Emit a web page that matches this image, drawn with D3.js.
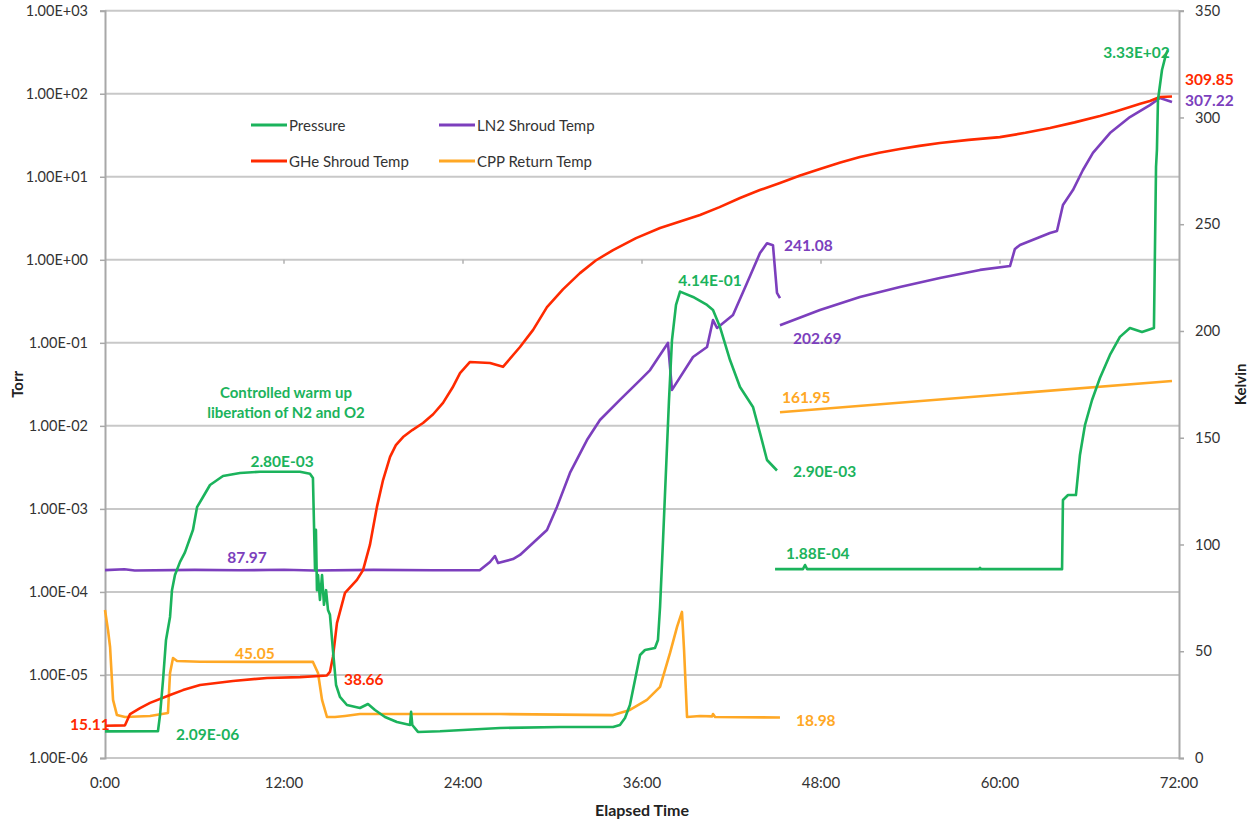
<!DOCTYPE html>
<html><head><meta charset="utf-8">
<script src="https://cdn.jsdelivr.net/npm/d3@7"></script>
<style>
body{margin:0;background:#fff;}
svg text{font-family:Lato,"Open Sans",sans-serif;}
</style></head>
<body><svg id="c" width="1255" height="819" font-family="Lato, 'Open Sans', sans-serif"></svg>
<script>
// ---- data: [elapsed hours, value] ----
const xTickLabels = ["0:00","12:00","24:00","36:00","48:00","60:00","72:00"];
const xTickHours = [0,12,24,36,48,60,72];
const leftTicks = [1e-6,1e-5,1e-4,1e-3,1e-2,1e-1,1e0,1e1,1e2,1e3];
const leftTickLabels = ["1.00E-06","1.00E-05","1.00E-04","1.00E-03","1.00E-02","1.00E-01","1.00E+00","1.00E+01","1.00E+02","1.00E+03"];
const rightTicks = [0,50,100,150,200,250,300,350];

// Pressure (Torr), left log axis
const pressureA = [
 [0,2.09e-6],[3.55,2.1e-6],[3.69,3.3e-6],[3.89,8.7e-6],[4.09,2.64e-5],[4.36,5.0e-5],[4.49,1.05e-4],
 [4.69,1.6e-4],[5.03,2.3e-4],[5.36,3.0e-4],[5.9,5.6e-4],[6.17,1.05e-3],[6.57,1.39e-3],[7.04,1.94e-3],
 [7.91,2.49e-3],[9.05,2.71e-3],[10.39,2.8e-3],[13.07,2.8e-3],[13.74,2.65e-3],[13.94,2.36e-3],
 [14.08,1.84e-4],[14.14,5.6e-4],[14.21,1.05e-4],[14.28,1.6e-4],[14.41,8.0e-5],[14.55,1.6e-4],
 [14.68,7.0e-5],[14.82,1.05e-4],[14.95,6.05e-5],[15.08,5.3e-5],[15.28,2.0e-5],[15.49,7.57e-6],
 [15.75,5.44e-6],[16.22,4.35e-6],[17.09,4.0e-6],[17.63,4.47e-6],[18.1,3.78e-6],[18.77,3.12e-6],
 [19.57,2.71e-6],[20.45,2.5e-6],[20.52,3.6e-6],[20.6,2.5e-6],[20.98,2.06e-6],[22.46,2.1e-6],
 [26.48,2.3e-6],[30.5,2.36e-6],[34.06,2.36e-6],[34.52,2.5e-6],[34.86,3.03e-6],[35.19,4.35e-6],
 [35.53,8.7e-6],[35.87,1.74e-5],[36.2,2.0e-5],[36.87,2.11e-5],[37.07,2.64e-5],[37.21,6.59e-5],
 [37.41,4.2e-4],[37.61,2.94e-3],[37.81,2.05e-2],[38.01,0.108],[38.28,0.286],[38.55,0.414],
 [39.42,0.357],[40.36,0.286],[40.76,0.249],[41.23,0.155],[41.9,6.2e-2],[42.57,2.94e-2],
 [43.44,1.69e-2],[43.91,8.2e-3],[44.38,3.88e-3],[45.05,2.9e-3]
];
const pressureB = [
 [44.92,1.88e-4],[46.79,1.88e-4],[46.93,2.11e-4],[47.07,1.88e-4],[58.6,1.88e-4],[58.66,1.95e-4],
 [58.72,1.88e-4],[64.16,1.88e-4],[64.22,1.28e-3],[64.56,1.47e-3],[65.09,1.47e-3],[65.36,4.46e-3],
 [65.7,1.03e-2],[66.17,2.05e-2],[66.7,3.77e-2],[67.37,7.14e-2],[68.04,0.118],[68.71,0.151],
 [69.52,0.135],[70.32,0.151],[70.46,13.1],[70.52,21],[70.59,84],[70.86,193],[71.13,300],[71.25,333]
];
// GHe Shroud Temp (K), right axis
const gheTemp = [
 [0,15.11],[1.34,15.3],[1.68,20.6],[2.35,23.4],[3.02,25.8],[4.36,29.5],[5.23,31.8],[6.37,34.2],
 [8.58,36.1],[10.86,37.5],[13.07,37.9],[14.88,38.66],[15.08,40.3],[15.28,47.3],[15.55,63.2],
 [16.09,77.3],[16.89,83.4],[17.3,88.0],[17.76,99.8],[18.23,117.6],[18.64,130.2],[19.11,141.0],
 [19.5,146.5],[19.98,150.3],[20.6,153.6],[21.32,156.9],[22.0,161.0],[22.66,166.3],[23.3,173.5],[23.8,180.3],[24.47,185.5],[25.81,185.0],[26.68,183.2],
 [27.82,192.5],[28.7,200.5],[29.63,211.2],[30.7,219.5],[31.84,227.1],[32.9,233.0],[34.06,237.9],
 [35.6,243.5],[37.21,248.2],[38.5,251.2],[39.89,254.3],[41.2,258.0],[42.57,262.3],[43.9,266.0],
 [45.25,269.3],[46.6,272.8],[47.93,275.9],[49.3,278.9],[50.61,281.5],[51.9,283.5],[53.29,285.2],
 [54.6,286.7],[55.97,288.0],[57.9,289.5],[59.99,290.8],[61.7,292.8],[63.35,295.1],[65.0,297.7],
 [66.7,300.7],[67.7,302.7],[68.71,304.9],[69.4,306.4],[70.05,307.7],[70.72,309.6],[71.53,309.85]
];
// LN2 Shroud Temp (K), right axis
const ln2TempA = [
 [0,88.0],[1.3,88.4],[2.0,87.8],[6.0,88.1],[9.0,87.9],[12.0,88.2],[14.0,87.8],[18.0,88.1],[22.0,87.9],
 [25.14,88.0],[25.81,91.8],[26.14,94.6],[26.35,91.3],[27.35,93.2],[27.82,95.1],[28.69,100.7],
 [29.63,106.8],[30.3,117.6],[31.17,133.5],[32.31,148.9],[33.18,158.3],[34.52,167.7],[35.87,177.0],
 [36.54,181.7],[37.74,194.4],[38.01,172.4],[39.42,187.8],[40.36,192.5],[40.76,205.1],[41.03,201.4],
 [42.1,207.5],[43.04,222.5],[43.91,236.5],[44.38,241.08],[44.78,240.2],[45.05,217.8],[45.25,215.4]
];
const ln2TempB = [
 [45.25,202.69],[47.93,209.8],[50.61,215.9],[53.29,220.6],[55.97,224.8],[58.66,228.6],[60.67,230.4],
 [61.0,238.4],[61.34,240.3],[62.68,244.0],[63.35,245.9],[63.82,246.8],[64.22,259.0],[64.89,266.0],
 [65.56,275.4],[66.23,283.4],[67.37,292.7],[68.71,300.2],[70.05,305.8],[70.72,309.1],[71.13,308.2],[71.53,307.22]
];
// CPP Return Temp (K), right axis
const cppTempA = [
 [0,69.3],[0.2,60.0],[0.34,52.0],[0.54,27.2],[0.8,20.1],[1.34,19.2],[3.02,19.7],[4.22,21.1],
 [4.36,39.8],[4.56,46.8],[4.83,45.4],[6.37,45.05],[13.94,45.0],[14.28,39.8],[14.55,27.2],
 [14.88,19.2],[15.42,19.2],[16.09,19.7],[17.09,20.6],[26.48,20.6],[34.06,20.1],[35.19,22.5],
 [36.33,27.2],[37.21,33.3],[37.88,49.2],[38.35,61.4],[38.68,68.4],[38.82,50.6],[39.02,19.2],
 [39.89,19.7],[40.7,19.5],[40.76,20.6],[40.9,19.2],[45.25,18.98]
];
const cppTempB = [[45.25,161.95],[71.53,176.6]];

const seriesNames = ["Pressure","LN2 Shroud Temp","GHe Shroud Temp","CPP Return Temp"];
const colors = {green:"#1bb35c", red:"#ff2a00", purple:"#7c3fbd", orange:"#ffa825"};

// value labels: [text, color, hour, value, axis, dx, dy, anchor]
const valueLabels = [
 ["3.33E+02","green",71.25,333,"L",2,2,"end"],
 ["309.85","red",71.53,309.85,"R",13,-17,"start"],
 ["307.22","purple",71.53,307.22,"R",13,-2,"start"],
 ["241.08","purple",44.38,241.08,"R",17,2,"start"],
 ["4.14E-01","green",38.55,0.414,"L",30,-12,"middle"],
 ["202.69","purple",45.25,202.69,"R",13,13,"start"],
 ["161.95","orange",45.25,161.95,"R",2,-15,"start"],
 ["2.80E-03","green",11.87,2.8e-3,"L",0,-11,"middle"],
 ["2.90E-03","green",45.05,2.9e-3,"L",16,0,"start"],
 ["1.88E-04","green",44.92,1.88e-4,"L",11,-16,"start"],
 ["87.97","purple",9.52,87.97,"R",0,-13,"middle"],
 ["45.05","orange",10.05,45.05,"R",0,-9,"middle"],
 ["38.66","red",14.88,38.66,"R",17,4,"start"],
 ["18.98","orange",45.25,18.98,"R",16,3,"start"],
 ["15.11","red",0,15.11,"R",-35,-2,"start"],
 ["2.09E-06","green",4.76,2.09e-6,"L",0,3,"start"]
];
const noteLines = ["Controlled warm up","liberation of N2 and O2"];

// ---- drawing ----
const svg = d3.select("#c");
const X0=105, X1=1179, Y0=758, Y1=10.7;
const FONT = "Lato, 'Open Sans', sans-serif";
const x = d3.scaleLinear().domain([0,72]).range([X0,X1]);
const yL = d3.scaleLog().domain([1e-6,1e3]).range([Y0,Y1]);
const yR = d3.scaleLinear().domain([0,350]).range([Y0,Y1]);

// gridlines
svg.append("g").selectAll("line").data(leftTicks).join("line")
  .attr("x1",X0).attr("x2",X1).attr("y1",d=>yL(d)).attr("y2",d=>yL(d))
  .attr("stroke","#c8c8c8").attr("stroke-width",2);

// left axis
const gl = svg.append("g").attr("transform",`translate(${X0},0)`)
  .call(d3.axisLeft(yL).tickValues(leftTicks).tickFormat((d,i)=>leftTickLabels[i]).tickSize(5).tickPadding(12));
gl.attr("font-family",FONT).attr("font-size",14.5);
gl.select(".domain").attr("stroke","#a8a8a8").attr("stroke-width",2);
gl.selectAll(".tick line").attr("stroke","#a8a8a8").attr("stroke-width",1.5);
gl.selectAll(".tick text").attr("font-family",FONT).attr("font-size",14.5).attr("fill","#333");

// right axis
const gr = svg.append("g").attr("transform",`translate(${X1},0)`)
  .call(d3.axisRight(yR).tickValues(rightTicks).tickSize(5).tickPadding(11));
gr.attr("font-family",FONT).attr("font-size",14.5);
gr.select(".domain").attr("stroke","#a8a8a8").attr("stroke-width",2);
gr.selectAll(".tick line").attr("stroke","#a8a8a8").attr("stroke-width",1.5);
gr.selectAll(".tick text").attr("font-family",FONT).attr("font-size",14.5).attr("fill","#333");

// bottom tick labels
svg.append("g").selectAll("text").data(xTickHours).join("text")
  .attr("x",d=>x(d)).attr("y",Y0+24).attr("text-anchor","middle").attr("dominant-baseline","central")
  .attr("font-size",15).attr("fill","#333").text((d,i)=>xTickLabels[i]);
// x axis crossing at 1 Torr: small tick marks
svg.append("g").selectAll("line").data(xTickHours.slice(1,6)).join("line")
  .attr("x1",d=>x(d)).attr("x2",d=>x(d)).attr("y1",yL(1)).attr("y2",yL(1)+4)
  .attr("stroke","#b0b0b0").attr("stroke-width",1.5);

// axis titles
svg.append("text").attr("transform",`translate(17,${(Y0+Y1)/2}) rotate(-90)`).attr("text-anchor","middle")
  .attr("dominant-baseline","central").attr("font-size",15).attr("font-weight","bold").attr("fill","#222").text("Torr");
svg.append("text").attr("transform",`translate(1240,${(Y0+Y1)/2}) rotate(-90)`).attr("text-anchor","middle")
  .attr("dominant-baseline","central").attr("font-size",15).attr("font-weight","bold").attr("fill","#222").text("Kelvin");
svg.append("text").attr("x",642).attr("y",809).attr("text-anchor","middle")
  .attr("dominant-baseline","central").attr("font-size",16).attr("font-weight","bold").attr("fill","#222").text("Elapsed Time");

// lines
const lineL = d3.line().x(d=>x(d[0])).y(d=>yL(d[1]));
const lineR = d3.line().x(d=>x(d[0])).y(d=>yR(d[1]));
const drawn = [
 [cppTempA,lineR,colors.orange],[cppTempB,lineR,colors.orange],
 [ln2TempA,lineR,colors.purple],[ln2TempB,lineR,colors.purple],
 [gheTemp,lineR,colors.red],
 [pressureA,lineL,colors.green],[pressureB,lineL,colors.green]
];
drawn.forEach(([data,gen,c])=>{
  svg.append("path").attr("d",gen(data)).attr("fill","none").attr("stroke",c)
    .attr("stroke-width",2.6).attr("stroke-linejoin","round").attr("stroke-linecap","butt");
});

// value labels
svg.append("g").selectAll("text").data(valueLabels).join("text")
  .attr("x",d=>x(d[2])+d[5])
  .attr("y",d=>(d[4]==="L"?yL(d[3]):yR(d[3]))+d[6])
  .attr("text-anchor",d=>d[7]).attr("dominant-baseline","central")
  .attr("font-size",15.5).attr("font-weight","bold").attr("fill",d=>colors[d[1]]).text(d=>d[0]);

// annotation note
svg.append("g").selectAll("text").data(noteLines).join("text")
  .attr("x",x(12.13)).attr("y",(d,i)=>yL(3e-2)+6+i*20).attr("text-anchor","middle").attr("dominant-baseline","central")
  .attr("font-size",15).attr("font-weight","bold").attr("fill",colors.green).text(d=>d);

// legend
const legendItems = [
 {name:seriesNames[0],c:colors.green,col:0,row:0},
 {name:seriesNames[1],c:colors.purple,col:1,row:0},
 {name:seriesNames[2],c:colors.red,col:0,row:1},
 {name:seriesNames[3],c:colors.orange,col:1,row:1}
];
const lg = svg.append("g");
legendItems.forEach(it=>{
  const lx = 251 + it.col*188, ly = 125 + it.row*36;
  lg.append("line").attr("x1",lx).attr("x2",lx+36).attr("y1",ly).attr("y2",ly).attr("stroke",it.c).attr("stroke-width",3);
  lg.append("text").attr("x",lx+38).attr("y",ly).attr("dominant-baseline","central").attr("font-size",15).attr("fill","#333").text(it.name);
});
</script></body></html>
